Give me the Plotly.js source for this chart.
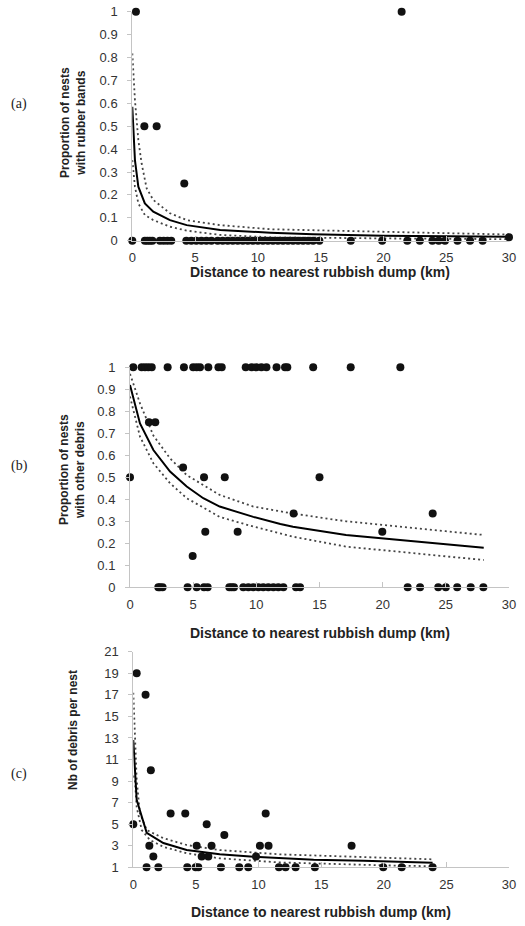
<!DOCTYPE html>
<html>
<head>
<meta charset="utf-8">
<script src="https://cdn.plot.ly/plotly-3.0.1.min.js"></script>
<style>html,body{margin:0;padding:0;background:#fff;}#chart{width:525px;height:926px;}</style>
</head>
<body>
<div id="chart"></div>
<script>
// ---------- Panel (a): rubber bands ----------
var aPtsX = [0.29, 21.45, 0.96, 1.94, 4.14,
  0, 1.0, 1.2, 1.4, 1.6, 2.2, 2.5, 2.8, 3.1, 4.3, 4.7, 5.1, 5.5, 5.9, 6.3, 6.8, 7.2, 7.6, 8.0, 8.4, 8.8,
  9.2, 9.6, 10.0, 10.4, 10.8, 11.2, 11.6, 12.0, 12.4, 12.8, 13.2, 13.6, 14.0, 14.4, 14.9,
  17.4, 19.9, 21.9, 22.9, 23.9, 24.4, 24.9, 25.9, 26.9, 27.9, 30];
var aPtsY = [1, 1, 0.5, 0.5, 0.25,
  0, 0, 0, 0, 0, 0, 0, 0, 0, 0, 0, 0, 0, 0, 0, 0, 0, 0, 0, 0, 0,
  0, 0, 0, 0, 0, 0, 0, 0, 0, 0, 0, 0, 0, 0, 0,
  0, 0, 0, 0, 0, 0, 0, 0, 0, 0, 0.015];
var aFitX = [0, 0.21, 0.48, 1.0, 1.67, 3.0, 4.33, 7.0, 11, 14.4, 20, 25, 30];
var aFitY = [0.585, 0.352, 0.236, 0.163, 0.127, 0.09, 0.068, 0.047, 0.035, 0.028, 0.022, 0.019, 0.017];
var aUpX = [0, 0.21, 0.48, 0.74, 1.14, 1.67, 3.0, 4.33, 7.0, 11, 15, 20, 25, 30];
var aUpY = [0.818, 0.614, 0.44, 0.338, 0.229, 0.178, 0.12, 0.09, 0.068, 0.05, 0.045, 0.038, 0.032, 0.027];
var aLoX = [0, 0.21, 0.48, 1.0, 1.67, 3.0, 4.33, 7.0, 11, 15, 20, 25, 30];
var aLoY = [0.352, 0.236, 0.163, 0.112, 0.09, 0.061, 0.044, 0.025, 0.015, 0.012, 0.01, 0.008, 0.007];

// ---------- Panel (b): other debris ----------
var bPtsX = [0.26, 0.92, 1.19, 1.45, 1.72, 2.98, 4.27, 5.0, 5.28, 5.54, 6.2, 7.0, 7.26, 9.16, 9.63, 10.0, 10.4, 10.8, 11.6, 12.27, 12.45, 14.5, 17.47, 21.4,
  1.5, 2.0,
  0, 5.86, 7.5, 15.0,
  4.2,
  12.95, 23.96,
  5.96, 8.52, 19.97,
  4.96,
  2.24, 2.37, 2.58, 4.56, 5.28, 5.86, 6.15, 7.86, 8.05, 8.23, 8.97, 9.37, 9.76, 10.16, 10.55, 10.95, 11.35, 11.74, 12.14, 13.14, 13.46, 21.98, 22.96, 24.4, 25.0, 25.9, 26.97, 27.97];
var bPtsY = [1, 1, 1, 1, 1, 1, 1, 1, 1, 1, 1, 1, 1, 1, 1, 1, 1, 1, 1, 1, 1, 1, 1, 1,
  0.75, 0.75,
  0.5, 0.5, 0.5, 0.5,
  0.544,
  0.335, 0.335,
  0.253, 0.253, 0.253,
  0.142,
  0, 0, 0, 0, 0, 0, 0, 0, 0, 0, 0, 0, 0, 0, 0, 0, 0, 0, 0, 0, 0, 0, 0, 0, 0, 0, 0, 0];
var bFitX = [0, 0.79, 1.85, 3.17, 4.49, 5.8, 7.1, 9.76, 11.9, 12.9, 17.1, 20, 22.4, 25, 28];
var bFitY = [0.92, 0.745, 0.624, 0.526, 0.458, 0.405, 0.367, 0.32, 0.288, 0.275, 0.238, 0.222, 0.208, 0.197, 0.18];
var bUpX = [0, 0.79, 1.85, 3.17, 4.49, 7.1, 9.76, 11.9, 12.9, 17.1, 22.4, 25, 28];
var bUpY = [0.97, 0.836, 0.69, 0.586, 0.51, 0.42, 0.367, 0.345, 0.335, 0.30, 0.268, 0.255, 0.238];
var bLoX = [0, 0.79, 1.85, 3.17, 4.49, 7.1, 9.76, 11.9, 12.9, 17.1, 22.4, 25, 28];
var bLoY = [0.867, 0.685, 0.564, 0.473, 0.405, 0.32, 0.276, 0.245, 0.23, 0.185, 0.155, 0.14, 0.124];

// ---------- Panel (c): number of debris ----------
var cPtsX = [0, 0.27, 0.98, 1.4, 1.28, 1.06, 1.6, 2.0, 2.98, 4.15, 4.31, 4.98, 5.19, 5.06, 5.46, 5.86, 5.99, 6.25, 7.0, 7.27,
  8.46, 9.18, 9.8, 10.11, 10.57, 10.8, 11.63, 12.16, 12.96, 14.5, 17.43, 19.96, 21.43, 23.9];
var cPtsY = [5, 19, 17, 10, 3, 1, 2, 1, 6, 6, 1, 1, 1, 3, 2, 5, 2, 3, 1, 4,
  1, 1, 2, 3, 6, 3, 1, 1, 1, 1, 3, 1, 1, 1];
var cFitX = [0, 0.27, 1.07, 2.4, 4.26, 5.6, 6.9, 9.6, 11.7, 14.4, 18.4, 21, 23.9];
var cFitY = [12.8, 7.26, 4.2, 3.25, 2.6, 2.4, 2.2, 1.98, 1.83, 1.7, 1.6, 1.5, 1.43];
var cUpX = [0, 0.13, 0.27, 0.53, 1.07, 2.4, 4.26, 6.9, 11.7, 14.4, 18, 21, 23.9];
var cUpY = [17.2, 12.8, 9.1, 6.0, 4.46, 3.7, 3.07, 2.6, 2.2, 2.1, 2.0, 1.85, 1.74];
var cLoX = [0, 0.13, 0.27, 0.67, 1.33, 2.4, 4.26, 6.9, 11.7, 14.4, 18, 21, 23.9];
var cLoY = [9.5, 9.1, 6.6, 4.46, 3.53, 2.9, 2.3, 1.83, 1.45, 1.35, 1.25, 1.15, 1.1];

var xTicks = [0, 5, 10, 15, 20, 25, 30];
var yTicksProp = [0, 0.1, 0.2, 0.3, 0.4, 0.5, 0.6, 0.7, 0.8, 0.9, 1];
var yTicksCount = [1, 3, 5, 7, 9, 11, 13, 15, 17, 19, 21];
var xTitle = 'Distance to nearest rubbish dump (km)';
var yTitles = ['Proportion of nests<br>with rubber bands', 'Proportion of nests<br>with other debris', 'Nb of debris per nest'];
var panelLabels = ['(a)', '(b)', '(c)'];

var W = 525, H = 926;
function px(x) { return x / W; }
function py(y) { return 1 - y / H; }

function pts(x, y, n) {
  return {x: x, y: y, xaxis: 'x' + n, yaxis: 'y' + n, type: 'scatter', mode: 'markers',
    marker: {color: '#111', size: 8}, cliponaxis: false, hoverinfo: 'skip'};
}
function fit(x, y, n) {
  return {x: x, y: y, xaxis: 'x' + n, yaxis: 'y' + n, type: 'scatter', mode: 'lines',
    line: {color: '#000', width: 2}, hoverinfo: 'skip'};
}
function band(x, y, n) {
  return {x: x, y: y, xaxis: 'x' + n, yaxis: 'y' + n, type: 'scatter', mode: 'lines',
    line: {color: '#444', width: 1.8, dash: '2px,3px'}, hoverinfo: 'skip'};
}

var data = [
  band(aUpX, aUpY, ''), band(aLoX, aLoY, ''), fit(aFitX, aFitY, ''), pts(aPtsX, aPtsY, ''),
  band(bUpX, bUpY, '2'), band(bLoX, bLoY, '2'), fit(bFitX, bFitY, '2'), pts(bPtsX, bPtsY, '2'),
  band(cUpX, cUpY, '3'), band(cLoX, cLoY, '3'), fit(cFitX, cFitY, '3'), pts(cPtsX, cPtsY, '3')
];

var tickFont = {family: 'Liberation Sans, Arial, sans-serif', size: 13, color: '#333'};
function xax(d0, d1, anchor) {
  return {domain: [d0, d1], anchor: anchor, range: [0, 30], tickvals: xTicks, showgrid: false, zeroline: false,
    showline: true, linecolor: '#c4c4c4', linewidth: 1, ticks: 'inside', ticklen: 5, tickcolor: '#c4c4c4',
    tickfont: tickFont, ticklabelstandoff: 5, fixedrange: true};
}
function yax(d0, d1, anchor, range, vals) {
  return {domain: [d0, d1], anchor: anchor, range: range, tickvals: vals, showgrid: false, zeroline: false,
    showline: true, linecolor: '#c4c4c4', linewidth: 1, ticks: 'outside', ticklen: 4, tickcolor: '#c4c4c4',
    tickfont: tickFont, ticklabelstandoff: 7, fixedrange: true};
}

var layout = {
  width: W, height: H, margin: {l: 0, r: 0, t: 0, b: 0}, showlegend: false,
  paper_bgcolor: '#fff', plot_bgcolor: '#fff',
  xaxis: xax(px(132.3), px(509), 'y'),
  yaxis: yax(py(240.7), py(11.7), 'x', [0, 1], yTicksProp),
  xaxis2: xax(px(130), px(509), 'y2'),
  yaxis2: yax(py(587.3), py(367.3), 'x2', [0, 1], yTicksProp),
  xaxis3: xax(px(133.3), px(509), 'y3'),
  yaxis3: yax(py(867.3), py(651.7), 'x3', [1, 21], yTicksCount),
  annotations: []
};

var titleFont = {family: 'Liberation Sans, Arial, sans-serif', size: 14, color: '#222'};
var yTitleFont = {family: 'Liberation Sans, Arial, sans-serif', size: 12, color: '#222'};
var labelFont = {family: 'Liberation Serif, Times New Roman, serif', size: 14, color: '#222'};
var xTitleY = [272, 633, 912];
var xTitleX = [320, 320, 321];
var yTitleX = [73, 72, 73];
var yTitleYc = [123, 470, 730];
var labelY = [104, 466, 774];
for (var i = 0; i < 3; i++) {
  layout.annotations.push({text: '<b>' + xTitle + '</b>', xref: 'paper', yref: 'paper', x: px(xTitleX[i]), y: py(xTitleY[i]),
    xanchor: 'center', yanchor: 'middle', showarrow: false, font: titleFont});
  layout.annotations.push({text: '<b>' + yTitles[i] + '</b>', xref: 'paper', yref: 'paper', x: px(yTitleX[i]), y: py(yTitleYc[i]),
    xanchor: 'center', yanchor: 'middle', showarrow: false, textangle: -90, font: yTitleFont});
  layout.annotations.push({text: panelLabels[i], xref: 'paper', yref: 'paper', x: px(19), y: py(labelY[i]),
    xanchor: 'center', yanchor: 'middle', showarrow: false, font: labelFont});
}

Plotly.newPlot('chart', data, layout, {staticPlot: true, displayModeBar: false});
</script>
</body>
</html>
